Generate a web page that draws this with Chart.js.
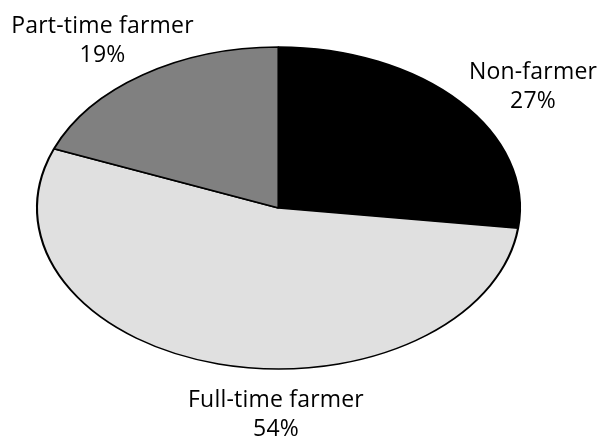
<!DOCTYPE html>
<html><head><meta charset="utf-8">
<script src="https://cdn.jsdelivr.net/npm/chart.js@4"></script>
<style>html,body{margin:0;padding:0;background:#fff}#c{display:block}</style>
</head><body>
<canvas id="c" width="600" height="436"></canvas>
<script>
const categories = ['Non-farmer', 'Full-time farmer', 'Part-time farmer'];
const shares = [27, 54, 19];
const sliceColors = ['#000000', '#e0e0e0', '#808080'];
// label anchor positions (layout only): center x, first-line baseline y
const labelPos = [[533, 79], [276, 406.5], [102.5, 33.3]];

const ELLIPSE = {cx: 278.5, cy: 208, rx: 241.5, ry: 161};

const ellipsePlugin = {
  id: 'ellipse',
  beforeDatasetsDraw(chart) {
    const arc = chart.getDatasetMeta(0).data[0];
    const r = arc.outerRadius;
    const ctx = chart.ctx;
    ctx.save();
    ctx.translate(ELLIPSE.cx, ELLIPSE.cy);
    ctx.scale(ELLIPSE.rx / r, ELLIPSE.ry / r);
    ctx.translate(-arc.x, -arc.y);
  },
  afterDatasetsDraw(chart) {
    chart.ctx.restore();
  },
  afterDraw(chart) {
    const ctx = chart.ctx;
    ctx.save();
    ctx.fillStyle = '#000';
    ctx.font = '23px "Open Sans", sans-serif';
    try { ctx.letterSpacing = '0.2px'; } catch (e) {}
    ctx.textAlign = 'center';
    ctx.textBaseline = 'alphabetic';
    categories.forEach((c, i) => {
      const [x, y] = labelPos[i];
      ctx.fillText(c, x, y);
      ctx.fillText(shares[i] + '%', x, y + 29);
    });
    ctx.restore();
  }
};

new Chart(document.getElementById('c'), {
  type: 'pie',
  data: {
    labels: categories,
    datasets: [{
      data: shares,
      backgroundColor: sliceColors,
      borderColor: '#000',
      borderWidth: 1.4,
      hoverOffset: 0
    }]
  },
  options: {
    responsive: false,
    animation: false,
    events: [],
    layout: {padding: {top: 47, bottom: 67, left: 120, right: 160}},
    plugins: {legend: {display: false}, tooltip: {enabled: false}}
  },
  plugins: [ellipsePlugin]
});
</script>
</body></html>
